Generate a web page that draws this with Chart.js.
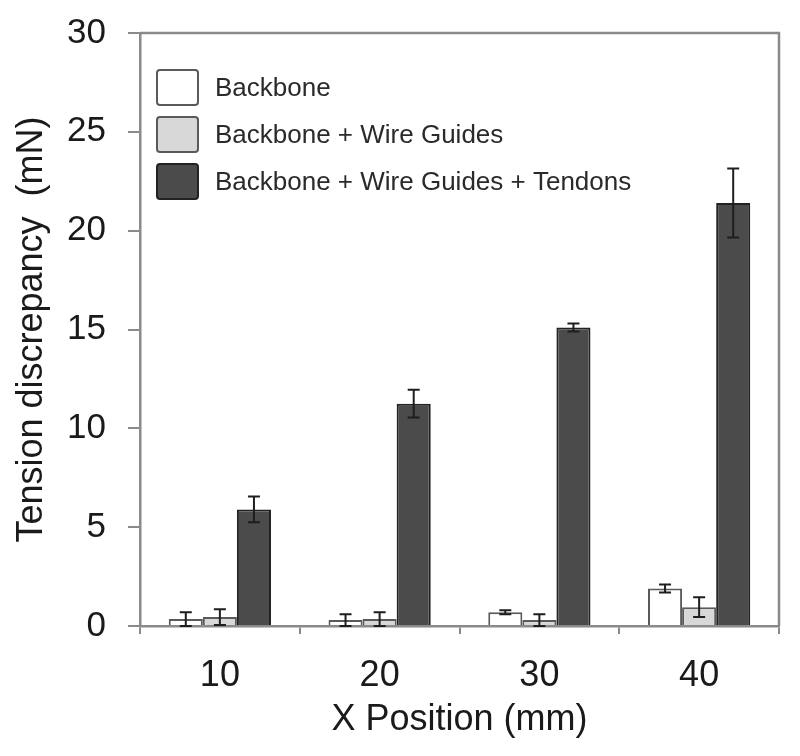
<!DOCTYPE html>
<html>
<head>
<meta charset="utf-8">
<script src="https://cdn.jsdelivr.net/npm/chart.js@4/dist/chart.umd.min.js"></script>
<style>
  html, body { margin: 0; padding: 0; background: #fff; }
  #wrap { width: 800px; height: 756px; position: relative; }
</style>
</head>
<body>
<div id="wrap"><canvas id="c" width="800" height="756"></canvas></div>
<script>
// ---- Data ----
const categories = ['10', '20', '30', '40'];
const seriesNames = ['Backbone', 'Backbone + Wire Guides', 'Backbone + Wire Guides + Tendons'];
const backbone = [0.35, 0.3, 0.7, 1.9];
const backboneErr = [0.35, 0.3, 0.1, 0.2];
const wireGuides = [0.45, 0.35, 0.3, 0.95];
const wireGuidesErr = [0.4, 0.35, 0.3, 0.5];
const tendons = [5.9, 11.25, 15.1, 21.4];
const tendonsErr = [0.65, 0.7, 0.2, 1.75];
const yTicks = [0, 5, 10, 15, 20, 25, 30];

const FONT = "'Liberation Sans', Arial, Helvetica, sans-serif";
const errors = [backboneErr, wireGuidesErr, tendonsErr];

const errorBarPlugin = {
  id: 'errorBars',
  afterDatasetsDraw(chart) {
    const ctx = chart.ctx;
    const y = chart.scales.y;
    ctx.save();
    ctx.strokeStyle = '#1e1e1e';
    ctx.lineWidth = 2;
    chart.data.datasets.forEach((ds, i) => {
      const meta = chart.getDatasetMeta(i);
      meta.data.forEach((bar, j) => {
        const v = ds.data[j];
        const e = errors[i][j];
        const x = bar.x;
        const yt = y.getPixelForValue(v + e);
        const yb = y.getPixelForValue(Math.max(0, v - e));
        const cap = 6;
        ctx.beginPath();
        ctx.moveTo(x, yt); ctx.lineTo(x, yb);
        ctx.moveTo(x - cap, yt); ctx.lineTo(x + cap, yt);
        ctx.moveTo(x - cap, yb); ctx.lineTo(x + cap, yb);
        ctx.stroke();
      });
    });
    ctx.restore();
  }
};

const framePlugin = {
  id: 'frame',
  afterDraw(chart) {
    const {ctx, chartArea: a} = chart;
    ctx.save();
    ctx.strokeStyle = '#8a8a8a';
    ctx.lineWidth = 2.5;
    ctx.beginPath();
    ctx.moveTo(a.left, a.top);
    ctx.lineTo(a.right, a.top);
    ctx.lineTo(a.right, a.bottom);
    ctx.stroke();
    ctx.restore();
  }
};

const legendPlugin = {
  id: 'insideLegend',
  afterDraw(chart) {
    const {ctx, chartArea: a} = chart;
    ctx.save();
    const bx = a.left + 17, bw = 41, bh = 35, gap = 47;
    chart.data.datasets.forEach((ds, i) => {
      const by = a.top + 37 + i * gap;
      ctx.fillStyle = ds.backgroundColor;
      ctx.strokeStyle = ds.borderColor;
      ctx.lineWidth = 2;
      ctx.beginPath();
      if (ctx.roundRect) ctx.roundRect(bx, by, bw, bh, 3); else ctx.rect(bx, by, bw, bh);
      ctx.fill();
      ctx.stroke();
      ctx.fillStyle = '#2a2a2a';
      ctx.font = '26px ' + FONT;
      ctx.textBaseline = 'middle';
      ctx.textAlign = 'left';
      ctx.fillText(ds.label, bx + bw + 17, by + bh / 2 + 1);
    });
    ctx.restore();
  }
};

new Chart(document.getElementById('c'), {
  type: 'bar',
  data: {
    labels: categories,
    datasets: [
      { label: seriesNames[0], data: backbone, backgroundColor: '#ffffff', borderColor: '#5a5a5a', borderWidth: 2 },
      { label: seriesNames[1], data: wireGuides, backgroundColor: '#d8d8d8', borderColor: '#5a5a5a', borderWidth: 2 },
      { label: seriesNames[2], data: tendons, backgroundColor: '#4b4b4b', borderColor: '#222222', borderWidth: 2 }
    ]
  },
  options: {
    responsive: false,
    animation: false,
    devicePixelRatio: 1,
    layout: { padding: { left: 0, top: 33, right: 21, bottom: 0 } },
    datasets: { bar: { categoryPercentage: 0.64, barPercentage: 1.0 } },
    plugins: { legend: { display: false }, tooltip: { enabled: false } },
    scales: {
      x: {
        afterFit(s) { s.height = 130; s.paddingLeft = 0; s.paddingRight = 0; },
        grid: { display: true, drawOnChartArea: false, drawTicks: true, tickLength: 8, color: '#8a8a8a', lineWidth: 2, offset: true },
        border: { display: true, color: '#8a8a8a', width: 2.5 },
        ticks: { color: '#1a1a1a', font: { family: FONT, size: 36 }, padding: 20 },
        title: { display: true, text: 'X Position (mm)', color: '#1a1a1a', font: { family: FONT, size: 36 }, padding: { top: 0, bottom: 14 } }
      },
      y: {
        min: 0, max: 30,
        afterFit(s) { s.width = 140; s.paddingTop = 0; s.paddingBottom = 0; },
        afterBuildTicks(s) { s.ticks = yTicks.map(v => ({ value: v })); },
        grid: { display: true, drawOnChartArea: false, drawTicks: true, tickLength: 12, color: '#8a8a8a', lineWidth: 2 },
        border: { display: true, color: '#8a8a8a', width: 2.5 },
        ticks: { color: '#1a1a1a', font: { family: FONT, size: 35 }, padding: 22 },
        title: { display: true, text: 'Tension discrepancy  (mN)', color: '#1a1a1a', font: { family: FONT, size: 36 }, padding: { top: 10, bottom: 0 } }
      }
    }
  },
  plugins: [errorBarPlugin, framePlugin, legendPlugin]
});
</script>
</body>
</html>
